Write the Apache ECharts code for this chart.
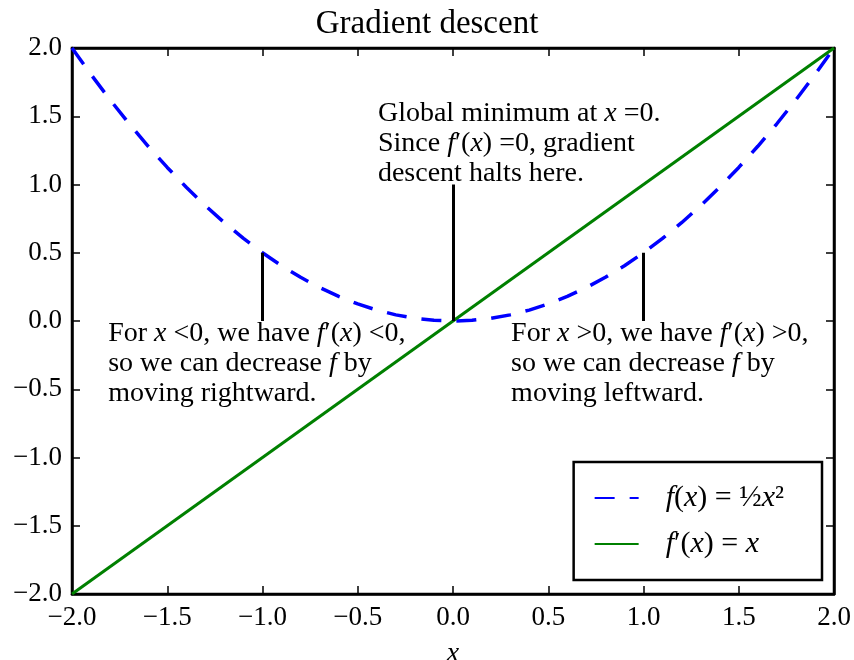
<!DOCTYPE html>
<html><head><meta charset="utf-8">
<script src="https://cdn.jsdelivr.net/npm/echarts@6/dist/echarts.min.js"></script>
<style>html,body{margin:0;padding:0;background:#fff}#c{width:854px;height:660px}</style>
</head><body><div id="c"></div>
<script>
// ---- data ----
const parabolaX = [-2.0,-1.9,-1.8,-1.7,-1.6,-1.5,-1.4,-1.3,-1.2,-1.1,-1.0,-0.9,-0.8,-0.7,-0.6,-0.5,-0.4,-0.3,-0.2,-0.1,0.0,0.1,0.2,0.3,0.4,0.5,0.6,0.7,0.8,0.9,1.0,1.1,1.2,1.3,1.4,1.5,1.6,1.7,1.8,1.9,2.0];
const parabolaY = [2.0,1.805,1.62,1.445,1.28,1.125,0.98,0.845,0.72,0.605,0.5,0.405,0.32,0.245,0.18,0.125,0.08,0.045,0.02,0.005,0.0,0.005,0.02,0.045,0.08,0.125,0.18,0.245,0.32,0.405,0.5,0.605,0.72,0.845,0.98,1.125,1.28,1.445,1.62,1.805,2.0];
const lineX = [-2.0, 2.0];
const lineY = [-2.0, 2.0];
const axisMin = -2, axisMax = 2, axisStep = 0.5;
const guideFromX = [-1.0, 0.0, 1.0];
const guideFromY = [0.5, 1.0, 0.5];
const guideToY = [0.0, 0.0, 0.0];
const noteX = [-1.81, -0.394, 0.305];
const noteY = [0.02, 1.63, 0.02];
const noteText = [
  'For {i|x} <0, we have {i|f}′({i|x}) <0,\nso we can decrease {i|f} by\nmoving rightward.',
  'Global minimum at {i|x} =0.\nSince {i|f}′({i|x}) =0, gradient\ndescent halts here.',
  'For {i|x} >0, we have {i|f}′({i|x}) >0,\nso we can decrease {i|f} by\nmoving leftward.'
];
const seriesNames = ['f(x)=½x²', "f'(x)=x"];
const legendLabels = ['{i|f}({i|x}) = ½{i|x}²', '{i|f}′({i|x}) = {i|x}'];
const titleText = 'Gradient descent';
const xName = 'x';

// ---- chart ----
const FONT = 'Liberation Serif';
const fmt = v => (v < 0 ? '−' : '') + Math.abs(v).toFixed(1);
const chart = echarts.init(document.getElementById('c'), null, {renderer: 'canvas'});
const zip = (a, b) => a.map((v, i) => [v, b[i]]);
const tickCommon = {show: true, inside: true, length: 8, lineStyle: {color: '#000', width: 1.5}};

const option = {
  backgroundColor: '#fff',
  animation: false,
  title: {text: titleText, left: 'center', top: 3,
    textStyle: {fontFamily: FONT, fontWeight: 'normal', fontSize: 33, color: '#000'}},
  grid: {left: 72, right: 20, top: 48, bottom: 66, outerBoundsMode: 'none', containLabel: false,
    show: true, borderColor: '#000', borderWidth: 2.5, backgroundColor: '#fff'},
  legend: {
    orient: 'vertical', right: 32, bottom: 80,
    data: seriesNames,
    borderColor: '#000', borderWidth: 2.5, borderRadius: 0, backgroundColor: '#fff',
    padding: [21, 38, 21, 20], itemGap: 16, itemWidth: 44, itemHeight: 14,
    itemStyle: {color: 'rgba(0,0,0,0)', borderWidth: 0},
    formatter: name => legendLabels[seriesNames.indexOf(name)],
    textStyle: {fontFamily: FONT, fontSize: 30, color: '#000', padding: [0, 0, 0, 22],
      rich: {i: {fontFamily: FONT, fontStyle: 'italic', fontSize: 30, color: '#000'}}}
  },
  xAxis: [
    {type: 'value', min: axisMin, max: axisMax, interval: axisStep, position: 'bottom',
     name: xName, nameLocation: 'middle', nameGap: 46,
     nameTextStyle: {fontFamily: FONT, fontStyle: 'italic', fontSize: 28, color: '#000'},
     axisLine: {show: true, onZero: false, lineStyle: {color: '#000', width: 2.5}},
     axisTick: tickCommon, splitLine: {show: false},
     axisLabel: {fontFamily: FONT, fontSize: 27, color: '#000', margin: 10, formatter: fmt}},
    {type: 'value', min: axisMin, max: axisMax, interval: axisStep, position: 'top',
     axisLine: {show: true, onZero: false, lineStyle: {color: '#000', width: 2.5}},
     axisTick: tickCommon, splitLine: {show: false}, axisLabel: {show: false}}
  ],
  yAxis: [
    {type: 'value', min: axisMin, max: axisMax, interval: axisStep, position: 'left',
     axisLine: {show: true, onZero: false, lineStyle: {color: '#000', width: 2.5}},
     axisTick: tickCommon, splitLine: {show: false},
     axisLabel: {fontFamily: FONT, fontSize: 27, color: '#000', margin: 10, formatter: fmt}},
    {type: 'value', min: axisMin, max: axisMax, interval: axisStep, position: 'right',
     axisLine: {show: true, onZero: false, lineStyle: {color: '#000', width: 2.5}},
     axisTick: tickCommon, splitLine: {show: false}, axisLabel: {show: false}}
  ],
  series: [
    {name: seriesNames[0], type: 'line', data: zip(parabolaX, parabolaY), symbol: 'none',
     smooth: false, color: '#0000ff',
     lineStyle: {color: '#0000ff', width: 3.5, type: [20, 15], cap: 'butt'},
     markLine: {silent: true, symbol: 'none', label: {show: false},
       lineStyle: {color: '#000', width: 3, type: 'solid'},
       data: guideFromX.map((x, i) => [{coord: [x, guideFromY[i]]}, {coord: [x, guideToY[i]]}])}
    },
    {name: seriesNames[1], type: 'line', data: zip(lineX, lineY), symbol: 'none', color: '#008000',
     lineStyle: {color: '#008000', width: 3}},
    {type: 'scatter', silent: true, symbolSize: 0, data: zip(noteX, noteY), z: 5,
     itemStyle: {color: '#000', opacity: 1},
     label: {show: true, position: [0, 0], align: 'left', verticalAlign: 'top',
       formatter: p => noteText[p.dataIndex], opacity: 1, textBorderWidth: 0,
       fontFamily: FONT, fontSize: 28, lineHeight: 30, color: '#000',
       rich: {i: {fontFamily: FONT, fontStyle: 'italic', fontSize: 28, lineHeight: 30, color: '#000'}}}
    }
  ]
};
chart.setOption(option);
</script>
</body></html>
